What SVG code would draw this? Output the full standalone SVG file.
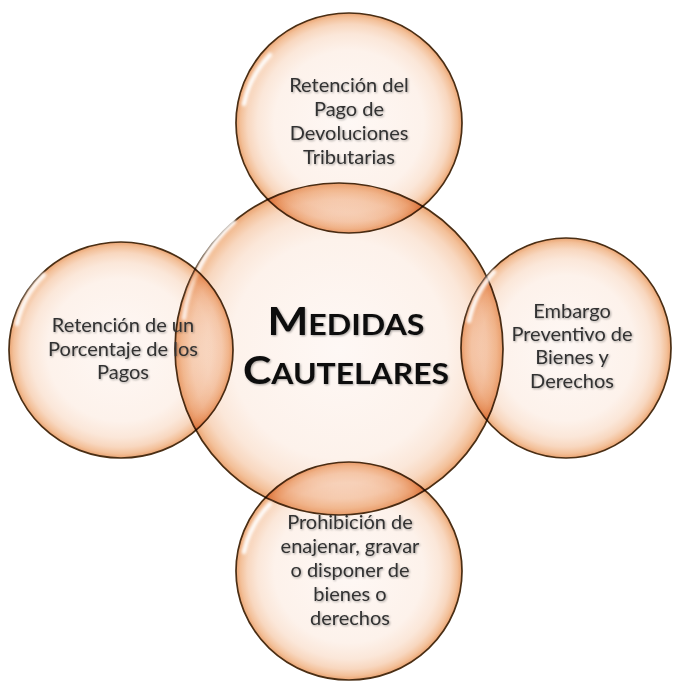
<svg xmlns="http://www.w3.org/2000/svg" width="675" height="682" viewBox="0 0 675 682">
  <defs>
    <radialGradient id="bub" cx="50%" cy="50%" r="50%">
      <stop offset="0%" stop-color="#fef8f5"/>
      <stop offset="66%" stop-color="#fdf2eb"/>
      <stop offset="81%" stop-color="#fbe7d9"/>
      <stop offset="90%" stop-color="#f8d7bf"/>
      <stop offset="96%" stop-color="#f3c099"/>
      <stop offset="100%" stop-color="#eba472"/>
    </radialGradient>
    <filter id="blur" x="-20%" y="-20%" width="140%" height="140%">
      <feGaussianBlur stdDeviation="1.5"/>
    </filter>
    <filter id="tshadow" x="-10%" y="-10%" width="120%" height="130%">
      <feGaussianBlur in="SourceAlpha" stdDeviation="1.2" result="b"/>
      <feOffset in="b" dx="0.8" dy="1.2" result="o"/>
      <feComponentTransfer in="o" result="s"><feFuncA type="linear" slope="0.35"/></feComponentTransfer>
      <feMerge><feMergeNode in="s"/><feMergeNode in="SourceGraphic"/></feMerge>
    </filter>
  </defs>
  <style>
    .c { fill: url(#bub); stroke: #4a2e14; stroke-width: 1.7; mix-blend-mode: multiply; }
    .g { fill: none; stroke: #ffffff; stroke-width: 4.5; stroke-linecap: round; opacity: 0.95; filter: url(#blur); }
    .t { font-family: Lato, "Open Sans", "Liberation Sans", sans-serif; font-size: 20px; fill: #333333; text-anchor: middle; filter: url(#tshadow); }
    .big { font-family: Lato, "Open Sans", "Liberation Sans", sans-serif; font-weight: bold; fill: #111111; text-anchor: middle; filter: url(#tshadow); }
  </style>

  <g id="center">
    <ellipse class="c" cx="339" cy="349" rx="164" ry="166"/>
    <path class="g" d="M 184 318 A 155 157 0 0 1 234 222"/>
  </g>
  <g id="top">
    <ellipse class="c" cx="349" cy="123" rx="113" ry="110"/>
    <path class="g" d="M 244 104 A 105 102 0 0 1 270 55"/>
  </g>
  <g id="left">
    <ellipse class="c" cx="121" cy="350" rx="112" ry="108"/>
    <path class="g" d="M 17 324 A 104 100 0 0 1 44 275"/>
  </g>
  <g id="right">
    <ellipse class="c" cx="566" cy="348" rx="105" ry="110"/>
    <path class="g" d="M 469 321 A 97 102 0 0 1 494 272"/>
  </g>
  <g id="bottom">
    <ellipse class="c" cx="349" cy="571" rx="113" ry="109"/>
    <path class="g" d="M 244 552 A 105 101 0 0 1 270 504"/>
  </g>

  <g id="labels">
    <text class="t"><tspan x="349" y="92">Retención del</tspan><tspan x="349" y="116">Pago de</tspan><tspan x="349" y="140">Devoluciones</tspan><tspan x="349" y="164">Tributarias</tspan></text>
    <text class="t"><tspan x="123" y="332">Retención de un</tspan><tspan x="123" y="356">Porcentaje de los</tspan><tspan x="123" y="379">Pagos</tspan></text>
    <text class="t"><tspan x="572" y="318">Embargo</tspan><tspan x="572" y="341">Preventivo de</tspan><tspan x="572" y="364">Bienes y</tspan><tspan x="572" y="388">Derechos</tspan></text>
    <text class="t"><tspan x="350" y="529">Prohibición de</tspan><tspan x="350" y="553">enajenar, gravar</tspan><tspan x="350" y="577">o disponer de</tspan><tspan x="350" y="601">bienes o</tspan><tspan x="350" y="625">derechos</tspan></text>
    <text class="big" x="346" y="335" textLength="157" lengthAdjust="spacingAndGlyphs"><tspan font-size="39">M</tspan><tspan font-size="29">EDIDAS</tspan></text>
    <text class="big" x="346" y="384" textLength="206" lengthAdjust="spacingAndGlyphs"><tspan font-size="39">C</tspan><tspan font-size="29">AUTELARES</tspan></text>
  </g>
</svg>
